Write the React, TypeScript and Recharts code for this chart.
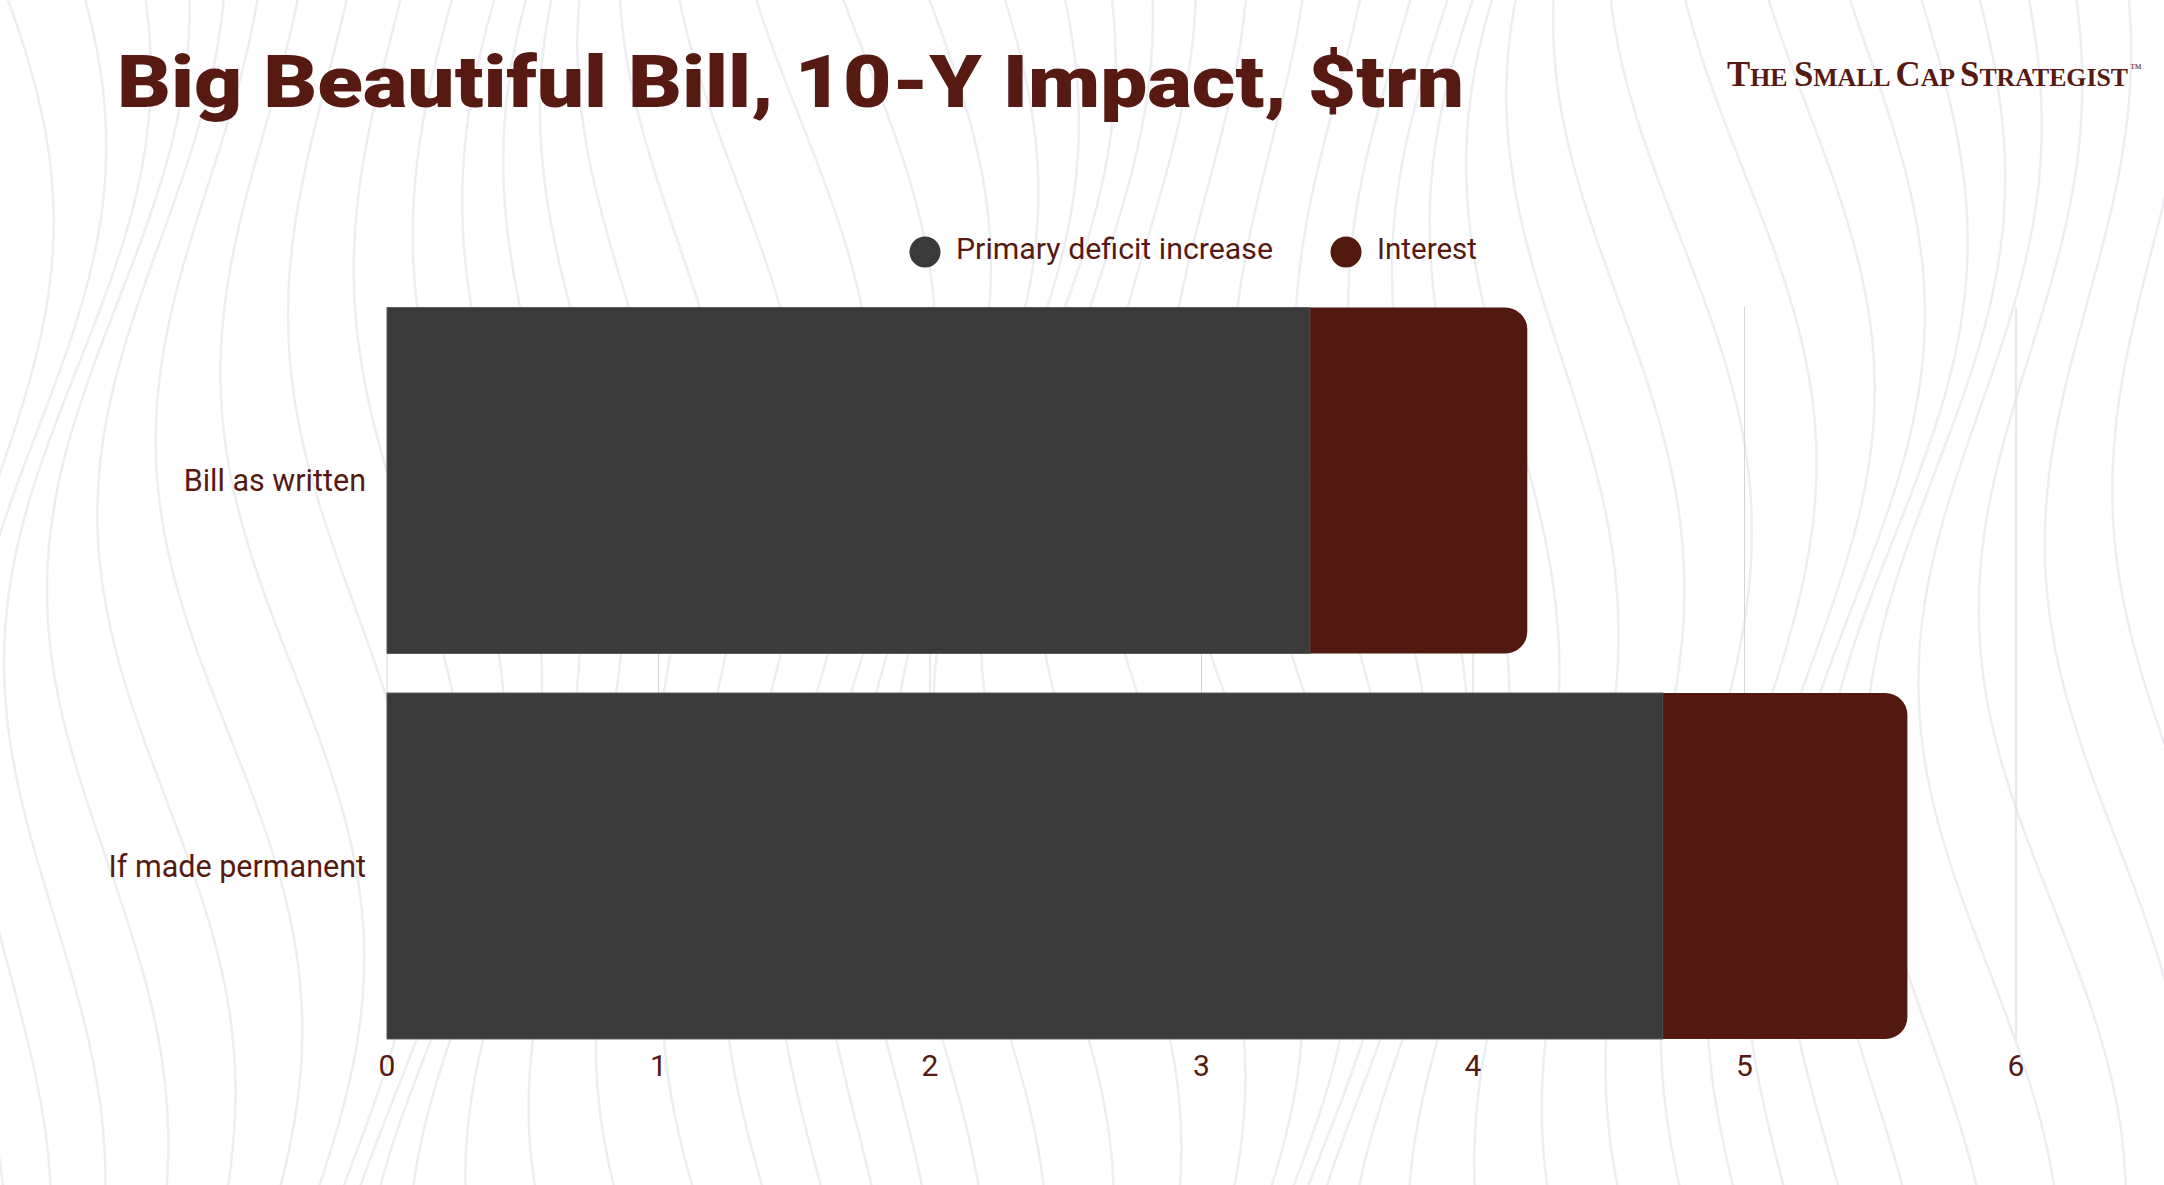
import React from 'react';
import { BarChart, Bar, XAxis, YAxis, CartesianGrid } from 'recharts';

const categories = ['Bill as written', 'If made permanent'];
const primaryDeficit = [3.4, 4.7];
const interest = [0.8, 0.9];
const xTicks = [0, 1, 2, 3, 4, 5, 6];
const seriesNames = ['Primary deficit increase', 'Interest'];

const DARK = '#3a3a3a';
const RED = '#521911';
const TEXT = '#561a12';

const data = categories.map((name, i) => ({
  name,
  primary: primaryDeficit[i],
  interest: interest[i],
}));

const W = 2164;
const H = 1185;

// decorative topographic-style background texture (not data)
function contourPaths(): string[] {
  const paths: string[] = [];
  for (let i = 0; i < 44; i++) {
    const x0 = -80 + i * 52;
    let d = '';
    for (let y = -20; y <= H + 20; y += 15) {
      const x =
        x0 +
        55 * Math.sin(y / 170 + i * 0.33) +
        28 * Math.sin(y / 390 + i * 0.71);
      d += (d ? ' L' : 'M') + x.toFixed(1) + ' ' + y;
    }
    paths.push(d);
  }
  return paths;
}
const bgPaths = contourPaths();

export default function App() {
  return (
    <div style={{ position: 'absolute', left: 0, top: 0, width: W, height: H, background: '#ffffff', overflow: 'hidden' }}>
      <svg width={W} height={H} style={{ position: 'absolute', left: 0, top: 0 }}>
        <g fill="none" stroke="#edeef2" strokeWidth={2.5}>
          {bgPaths.map((d, i) => (
            <path key={i} d={d} />
          ))}
        </g>
        <text
          x={117}
          y={107}
          fontFamily="Roboto"
          fontWeight={900}
          fontSize={72}
          fill={TEXT}
          textLength={1347}
          lengthAdjust="spacingAndGlyphs"
        >
          Big Beautiful Bill, 10-Y Impact, $trn
        </text>
        <text
          x={1727}
          y={86}
          fontFamily="Liberation Serif"
          fontWeight={700}
          fill={TEXT}
          textLength={401}
          lengthAdjust="spacingAndGlyphs"
        >
          <tspan fontSize={35}>T</tspan>
          <tspan fontSize={26}>HE </tspan>
          <tspan fontSize={35}>S</tspan>
          <tspan fontSize={26}>MALL </tspan>
          <tspan fontSize={35}>C</tspan>
          <tspan fontSize={26}>AP </tspan>
          <tspan fontSize={35}>S</tspan>
          <tspan fontSize={26}>TRATEGIST</tspan>
        </text>
        <text x={2130} y={72} fontFamily="Liberation Serif" fontSize={12} fill={TEXT}>™</text>
        {/* legend */}
        <circle cx={925} cy={252} r={15.5} fill={DARK} />
        <text x={956} y={259} fontFamily="Roboto" fontSize={30} fill={TEXT} textLength={317} lengthAdjust="spacingAndGlyphs">
          {seriesNames[0]}
        </text>
        <circle cx={1346} cy={252} r={15.5} fill={RED} />
        <text x={1377} y={259} fontFamily="Roboto" fontSize={30} fill={TEXT} textLength={100} lengthAdjust="spacingAndGlyphs">
          {seriesNames[1]}
        </text>
      </svg>
      <div style={{ position: 'absolute', left: 0, top: 0 }}>
        <BarChart
          width={W}
          height={H}
          data={data}
          layout="vertical"
          margin={{ top: 307, right: 148, bottom: 86, left: 0 }}
          barCategoryGap={0}
        >
          <CartesianGrid horizontal={false} vertical stroke="#ddd2d2" strokeWidth={1} />
          <XAxis
            type="number"
            domain={[0, 6]}
            ticks={xTicks}
            tickLine={false}
            axisLine={false}
            tickSize={0}
            tickMargin={16}
            height={60}
            tick={{ fill: TEXT, fontSize: 30, fontFamily: 'Roboto' }}
            interval={0}
          />
          <YAxis
            type="category"
            dataKey="name"
            width={387}
            tickLine={false}
            axisLine={false}
            tickSize={0}
            tickMargin={21}
            padding={{ top: -19.5, bottom: -19.5 }}
            tick={{ fill: TEXT, fontSize: 30.5, fontFamily: 'Roboto' }}
          />
          <Bar
            dataKey="primary"
            name={seriesNames[0]}
            stackId="a"
            fill={DARK}
            stroke="#5e5e5e"
            strokeWidth={1}
            barSize={346}
            isAnimationActive={false}
          />
          <Bar
            dataKey="interest"
            name={seriesNames[1]}
            stackId="a"
            fill={RED}
            barSize={346}
            radius={[0, 22, 22, 0]}
            isAnimationActive={false}
          />
        </BarChart>
      </div>
    </div>
  );
}
